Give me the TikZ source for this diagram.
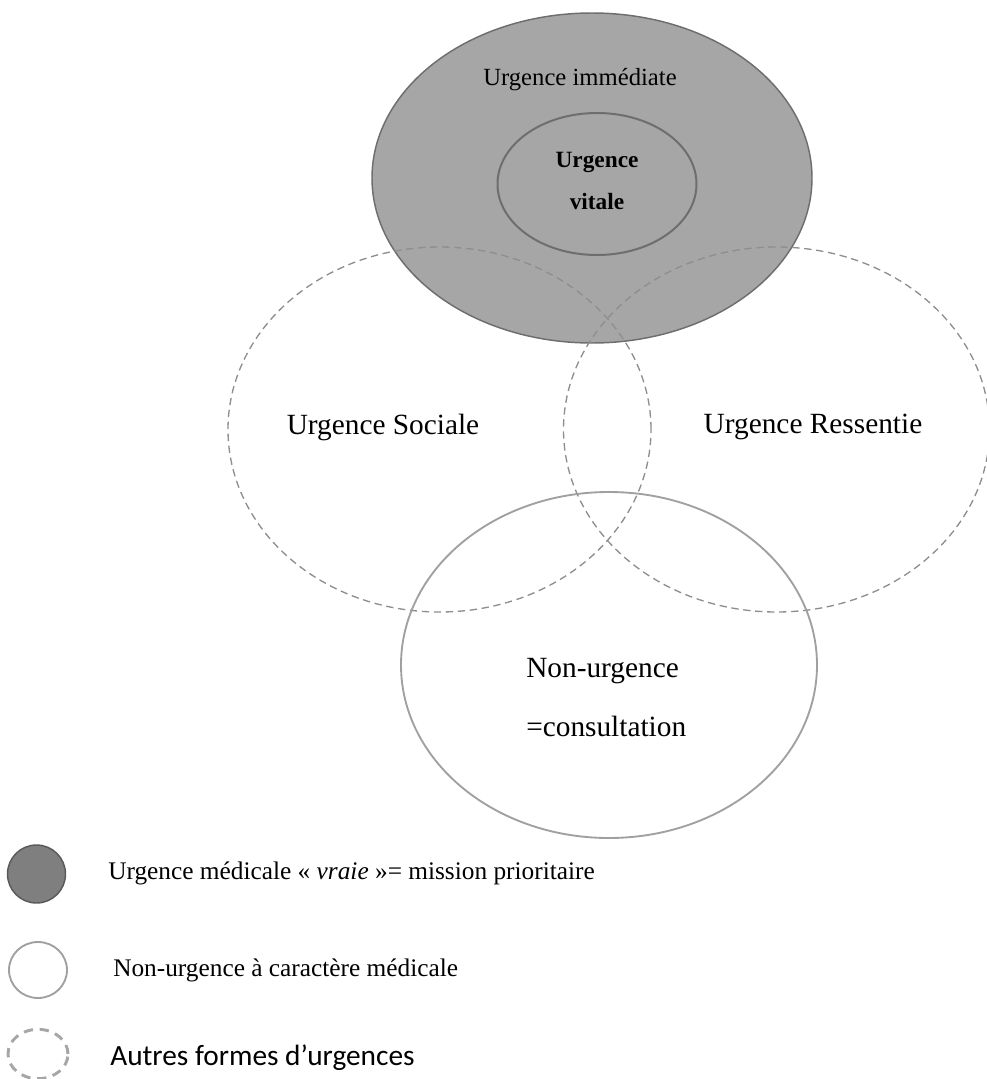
\documentclass[tikz,border=0pt]{standalone}
\usepackage{fontspec}
\setmainfont{Liberation Serif}[ItalicFont={Liberation Serif Italic},BoldFont={Liberation Serif Bold}]
\newfontfamily\legendsans{Carlito}
\usetikzlibrary{shapes.geometric}

\definecolor{urgfill}{HTML}{A6A6A6}
\definecolor{urgline}{HTML}{6E6E6E}
\definecolor{dashline}{HTML}{8E8E8E}
\definecolor{nonline}{HTML}{A0A0A0}
\definecolor{legfill}{HTML}{7F7F7F}
\definecolor{legline}{HTML}{5A5A5A}

\begin{document}
\begin{tikzpicture}[x=0.75pt,y=-0.75pt,inner sep=0pt,
                    font=\fontsize{22}{26}\selectfont]
  \tikzstyle{zone}=[ellipse,inner sep=0pt]
  \tikzstyle{vraie}=[zone,draw=urgline,fill=urgfill,line width=1.1pt]
  \tikzstyle{autre}=[zone,draw=dashline,line width=1pt,dash pattern=on 5.5pt off 3.5pt]
  \tikzstyle{nonurg}=[zone,draw=nonline,line width=1.4pt]
  \tikzstyle{legend}=[anchor=west,font=\fontsize{19}{23}\selectfont]

  \useasboundingbox (0,0) rectangle (987,1079);

  % les zones
  \node[vraie,minimum width=330pt,minimum height=247.5pt] (UI) at (592,178) {};
  \node[vraie,line width=1.5pt,minimum width=149.25pt,minimum height=106.5pt] (UV) at (597,184) {};
  \node[autre,minimum width=317.25pt,minimum height=273.75pt] (US) at (439.5,429.5) {};
  \node[autre,minimum width=319.5pt,minimum height=273.75pt] (UR) at (776.5,429.5) {};
  \node[nonurg,minimum width=312pt,minimum height=259.5pt] (NU) at (609,665) {};

  % les textes
  \node[font=\fontsize{18.5}{22}\selectfont] (tUI) at (580,80) {Urgence immédiate};
  \node[align=center,font=\bfseries\fontsize{17.5}{31}\selectfont] (tUV) at (597,181) {Urgence\\vitale};
  \node (tUS) at (383,427) {Urgence Sociale};
  \node (tUR) at (813,427) {Urgence Ressentie};
  \node[anchor=west,align=left,font=\fontsize{22}{44}\selectfont] (tNU) at (526,697.5) {Non-urgence\\=consultation};

  % la légende
  \node[zone,draw=legline,fill=legfill,line width=1.1pt,minimum width=43.5pt,minimum height=43.5pt] (LV) at (36.5,874) {};
  \node[nonurg,minimum width=43.5pt,minimum height=42pt] (LN) at (38,970) {};
  \node[zone,draw=urgfill,line width=2.2pt,dash pattern=on 7pt off 5pt,minimum width=45pt,minimum height=37pt] (LA) at (38,1054) {};

  \node[legend] (tLV) at (108,873) {Urgence médicale « \textit{vraie} »= mission prioritaire};
  \node[legend] (tLN) at (113,970) {Non-urgence à caractère médicale};
  \node[legend,font=\legendsans\fontsize{22}{26}\selectfont] (tLA) at (110,1058) {Autres formes d’urgences};
\end{tikzpicture}
\end{document}
